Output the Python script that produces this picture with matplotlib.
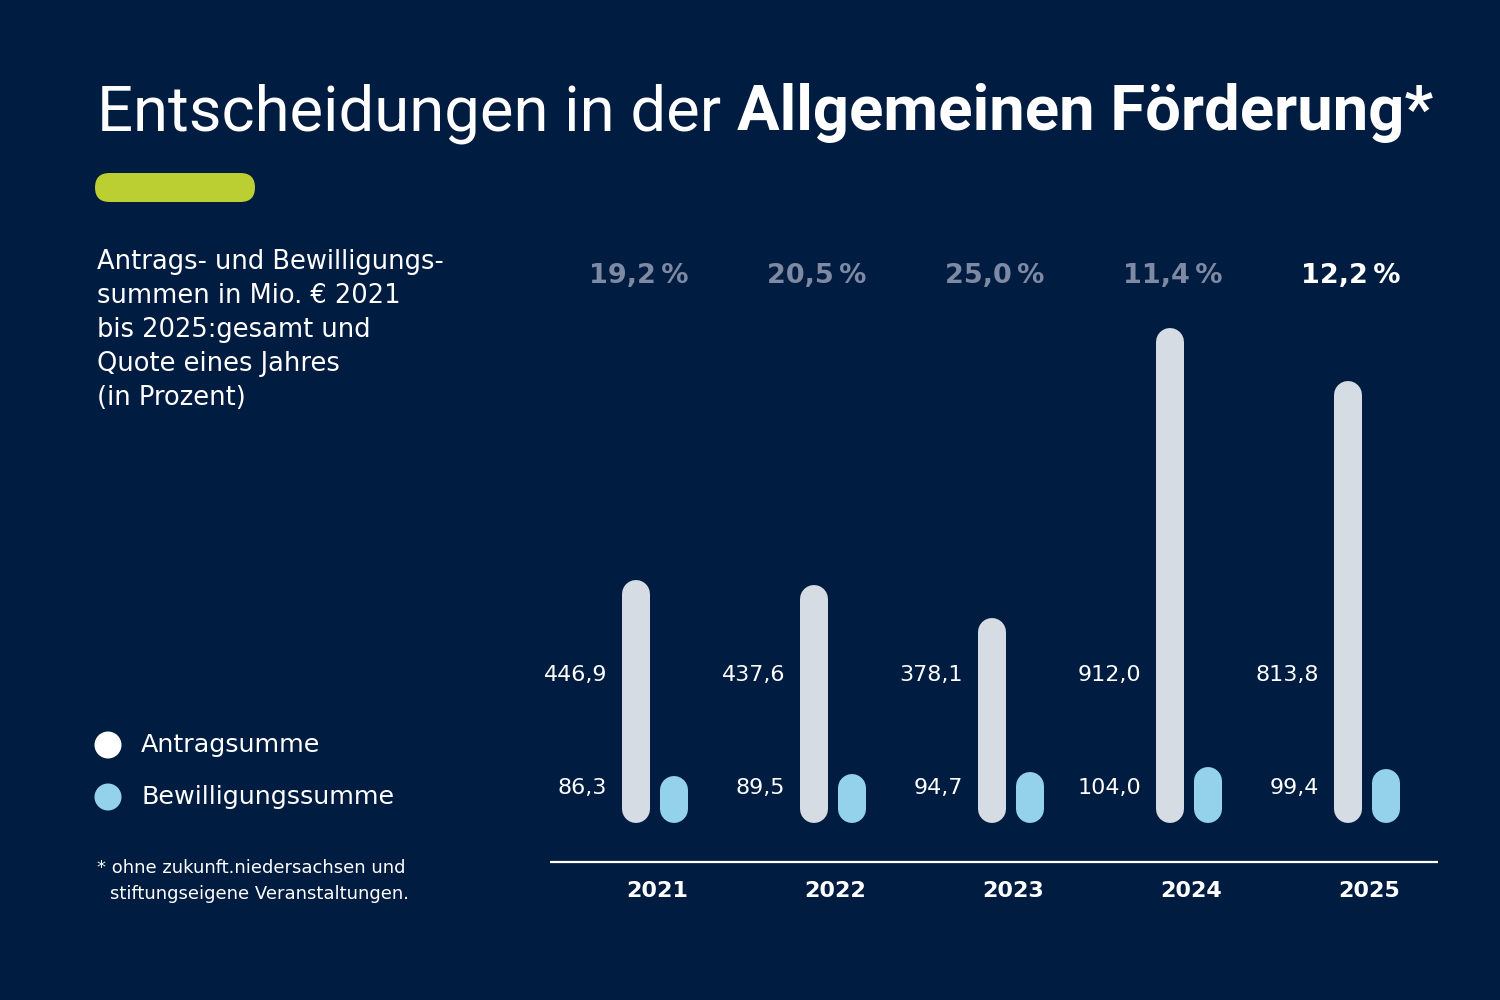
import matplotlib.pyplot as plt
from matplotlib.patches import FancyBboxPatch, Ellipse

# Daten
jahre = ['2021', '2022', '2023', '2024', '2025']
antragssumme = [446.9, 437.6, 378.1, 912.0, 813.8]
bewilligungssumme = [86.3, 89.5, 94.7, 104.0, 99.4]
quote = ['19,2\u2009%', '20,5\u2009%', '25,0\u2009%', '11,4\u2009%', '12,2\u2009%']
antrag_labels = ['446,9', '437,6', '378,1', '912,0', '813,8']
bewilligung_labels = ['86,3', '89,5', '94,7', '104,0', '99,4']

BG = '#011c41'
GRAU = '#d5dce4'
BLAU = '#94d2eb'
GRUEN = '#bccf32'
QUOTE_GRAU = '#7e8aa3'
FONT = 'DejaVu Sans'

W, H = 1500, 1000
fig = plt.figure(figsize=(15, 10), dpi=100, facecolor=BG)


def fx(px):
    return px / W


def fy(py):
    return 1 - py / H


# Titel: Schriftgroesse so waehlen, dass er von x=97 bis x=1432 reicht
groesse = 44
t1 = fig.text(fx(97), fy(130), 'Entscheidungen in der ', color='white', fontsize=groesse,
              family='Roboto', va='baseline', ha='left')
t2 = fig.text(0, fy(130), 'Allgemeinen Förderung*', color='white', fontsize=groesse,
              family='Roboto', fontweight='bold', va='baseline', ha='left')
fig.canvas.draw()
breite = t1.get_window_extent().width + t2.get_window_extent().width
groesse = groesse * 1335 / breite
t1.set_fontsize(groesse)
t2.set_fontsize(groesse)
fig.canvas.draw()
t2.set_x(t1.get_window_extent().x1 / W)

# gruener Balken
fig.patches.append(FancyBboxPatch((fx(95), fy(202)), fx(160), 29 / H,
                                  boxstyle='round,pad=0,rounding_size=0.0097',
                                  mutation_aspect=1.5,
                                  transform=fig.transFigure, facecolor=GRUEN,
                                  edgecolor='none'))

# Untertitel
untertitel = ['Antrags- und Bewilligungs-', 'summen in Mio. € 2021',
              'bis 2025:gesamt und', 'Quote eines Jahres', '(in Prozent)']
for i, zeile in enumerate(untertitel):
    fig.text(fx(97), fy(269 + 34 * i), zeile, color='white', fontsize=18.5,
             family=FONT, va='baseline')

# Legende
for py, farbe, name in [(745, 'white', 'Antragsumme'), (797, BLAU, 'Bewilligungssumme')]:
    fig.patches.append(Ellipse((fx(108), fy(py)), 27 / W, 27 / H,
                               transform=fig.transFigure,
                               facecolor=farbe, edgecolor='none'))
    fig.text(fx(141), fy(py), name, color='white', fontsize=18.3, family=FONT,
             va='center')

# Fussnote
fig.text(fx(97), fy(873), '* ohne zukunft.niedersachsen und', color='white',
         fontsize=13, family=FONT, va='baseline')
fig.text(fx(110), fy(899), 'stiftungseigene Veranstaltungen.', color='white',
         fontsize=13, family=FONT, va='baseline')

# Diagramm
ax = fig.add_axes([fx(550), fy(862), fx(1440) - fx(550), 612 / H])
ax.set_facecolor(BG)
ax.set_xlim(-0.59, 4.41)
ax.set_ylim(-71.8, 1055)
ax.axis('off')

ppu = 612 / (1055 + 71.8)      # Pixel pro Einheit
bar_px = 28
r = (bar_px / 2) / ppu
lw = bar_px * 72 / 100
off = 19 / 178

for i in range(len(jahre)):
    ax.plot([i - off, i - off], [r, antragssumme[i] - r], color=GRAU, lw=lw,
            solid_capstyle='round')
    ax.plot([i + off, i + off], [r, bewilligungssumme[i] - r], color=BLAU, lw=lw,
            solid_capstyle='round')
    ax.text(i - 0.27, 272, antrag_labels[i], color='white', fontsize=16,
            family=FONT, ha='right', va='center')
    ax.text(i - 0.27, 64, bewilligung_labels[i], color='white', fontsize=16,
            family=FONT, ha='right', va='center')
    ax.text(i - 0.09, 1008, quote[i], color='white' if i == len(jahre) - 1 else QUOTE_GRAU,
            fontsize=19.5, family=FONT, fontweight='bold', ha='center', va='center')
    ax.text(i + 0.01, -125, jahre[i], color='white', fontsize=16, family=FONT,
            fontweight='bold', ha='center', va='center')

ax.plot([-0.59, 4.40], [-71.8, -71.8], color='white', lw=1.6, clip_on=False,
        solid_capstyle='butt')

fig.savefig('out.png', dpi=100, facecolor=BG)
